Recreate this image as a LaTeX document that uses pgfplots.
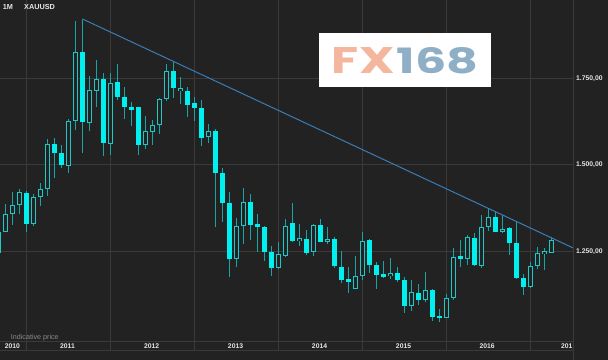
\documentclass[border=0pt]{standalone}
\usepackage{fontspec}
\setmainfont{Liberation Sans}
\newfontfamily\logofont{Poppins}
\usepackage{graphicx}
\usepackage{pgfplots}
\usepackage{pgfplotstable}
\pgfplotsset{compat=1.18}

\definecolor{bgc}{HTML}{222222}
\definecolor{gridc}{HTML}{3A3A3A}
\definecolor{upc}{HTML}{1EC8C8}
\definecolor{dnc}{HTML}{00F0F0}
\definecolor{wickc}{HTML}{17A5A5}
\definecolor{trendc}{HTML}{3A7DB5}
\definecolor{txtc}{HTML}{E6E6E6}
\definecolor{greyc}{HTML}{8A8A8A}
\definecolor{fxc}{HTML}{F4B69C}
\definecolor{onec}{HTML}{8EAFC6}

% month index m: 0 = Jan 2010
\pgfplotstableread{
m O H L C
8 1246 1310 1243 1308
9 1308 1388 1307 1359
10 1358 1423 1328 1384
11 1385 1432 1360 1421
13 1331 1416 1324 1409
14 1409 1447 1382 1431
15 1430 1575 1410 1560
18 1498 1632 1478 1626
19 1626 1915 1600 1827
21 1620 1757 1597 1716
22 1714 1803 1668 1747
24 1561 1764 1528 1736
29 1558 1641 1545 1598
30 1596 1630 1557 1615
31 1615 1692 1590 1691
32 1689 1790 1685 1772
34 1714 1755 1675 1721
38 1580 1619 1563 1598
42 1229 1348 1207 1324
43 1324 1434 1272 1394
48 1202 1277 1200 1242
49 1238 1344 1236 1324
51 1282 1330 1267 1288
53 1248 1330 1238 1327
55 1279 1322 1271 1286
59 1143 1238 1142 1181
60 1181 1308 1167 1282
64 1180 1231 1171 1188
67 1093 1168 1079 1133
69 1111 1191 1105 1141
72 1060 1127 1059 1116
73 1116 1261 1110 1236
75 1230 1298 1212 1292
77 1210 1356 1204 1320
78 1320 1373 1311 1350
80 1308 1356 1304 1316
84 1149 1221 1146 1209
85 1209 1263 1199 1247
86 1247 1260 1197 1248
87 1247 1293 1245 1284
}\upc

\pgfplotstableread{
m O H L C
12 1420 1426 1308 1331
16 1560 1577 1462 1534
17 1536 1558 1490 1500
20 1827 1921 1534 1625
23 1747 1764 1526 1564
25 1740 1790 1688 1697
26 1697 1724 1632 1668
27 1666 1683 1613 1661
28 1666 1668 1529 1558
33 1772 1796 1692 1721
35 1714 1724 1639 1673
36 1678 1697 1627 1663
37 1665 1688 1555 1578
39 1598 1605 1322 1478
40 1478 1490 1336 1390
41 1389 1423 1178 1229
44 1392 1416 1285 1327
45 1330 1360 1250 1321
46 1322 1325 1224 1250
47 1248 1267 1180 1202
50 1332 1391 1277 1281
52 1288 1312 1240 1247
54 1327 1344 1277 1279
56 1286 1292 1204 1210
57 1207 1252 1160 1168
58 1170 1205 1130 1164
61 1283 1288 1190 1211
62 1212 1221 1142 1182
63 1183 1223 1173 1178
65 1188 1205 1162 1168
66 1168 1176 1074 1093
68 1132 1156 1097 1111
70 1141 1143 1050 1062
71 1064 1086 1046 1060
74 1236 1284 1207 1230
76 1290 1305 1209 1212
79 1350 1366 1306 1308
81 1319 1320 1240 1274
82 1276 1338 1172 1173
83 1173 1187 1124 1149
}\dnc

\begin{document}
\begin{tikzpicture}
\path[use as bounding box] (0,0) rectangle (608bp,360bp);
\fill[bgc] (0,0) rectangle (608bp,360bp);
\begin{axis}[
  at={(0,9bp)}, anchor=south west,
  width=573bp, height=351bp, scale only axis,
  xmin=8.214, xmax=90.071, ymin=963.67, ymax=1975.78,
  axis line style={draw=none}, tick style={draw=none}, major tick length=0pt,
  xtick={12,24,36,48,60,72,84}, xticklabels={},
  ytick={1250,1500,1750}, yticklabels={{1.250,00},{1.500,00},{1.750,00}},
  yticklabel pos=right,
  grid=major, major grid style={draw=gridc, line width=1bp},
  extra x ticks={9.97,17.86,29.88,41.86,53.86,65.86,77.8,89.17},
  extra x tick labels={2010,2011,2012,2013,2014,2015,2016,201},
  extra x tick style={grid=none},
  extra y ticks={992.5}, extra y tick labels={},
  extra y tick style={grid=major},
  yticklabel style={anchor=west, inner sep=0pt, xshift=3bp, text=txtc,
    font=\fontsize{6.8}{7}\selectfont\bfseries},
  xticklabel style={anchor=center, inner sep=0pt, yshift=4.8bp, text=txtc,
    font=\fontsize{6.8}{7}\selectfont\bfseries},
  clip=true,
]
% wicks
\addplot[draw=none, mark=none, forget plot,
  error bars/.cd, y dir=both, y explicit, error mark=none,
  error bar style={draw=wickc, line width=1bp}]
  table[x=m, y expr={(\thisrow{H}+\thisrow{L})/2},
        y error expr={(\thisrow{H}-\thisrow{L})/2}] {\upc};
\addplot[draw=none, mark=none, forget plot,
  error bars/.cd, y dir=both, y explicit, error mark=none,
  error bar style={draw=wickc, line width=1bp}]
  table[x=m, y expr={(\thisrow{H}+\thisrow{L})/2},
        y error expr={(\thisrow{H}-\thisrow{L})/2}] {\dnc};
% down bodies (filled)
\addplot[draw=none, mark=none, forget plot,
  error bars/.cd, y dir=both, y explicit, error mark=none,
  error bar style={draw=dnc, line width=5bp}]
  table[x=m, y expr={(\thisrow{O}+\thisrow{C})/2},
        y error expr={max(abs(\thisrow{O}-\thisrow{C})/2,4)}] {\dnc};
% up bodies (hollow)
\addplot[draw=none, mark=none, forget plot,
  error bars/.cd, y dir=both, y explicit, error mark=none,
  error bar style={draw=upc, line width=5bp}]
  table[x=m, y expr={(\thisrow{O}+\thisrow{C})/2},
        y error expr={max(abs(\thisrow{O}-\thisrow{C})/2,4)}] {\upc};
\addplot[draw=none, mark=none, forget plot,
  error bars/.cd, y dir=both, y explicit, error mark=none,
  error bar style={draw=bgc, line width=3bp}]
  table[x=m, y expr={(\thisrow{O}+\thisrow{C})/2},
        y error expr={max(max(abs(\thisrow{O}-\thisrow{C})/2,4)-2.9,0)}] {\upc};
% trend line
\addplot[trendc, line width=1bp, mark=none] coordinates {(20,1921) (90.071,1261)};
\end{axis}
\draw[gridc, line width=1bp] (0,9bp) -- (573bp,9bp);
\draw[gridc, line width=1bp] (573.5bp,0) -- (573.5bp,360bp);
\node[anchor=west, inner sep=0pt, text=txtc, font=\fontsize{7.3}{8}\selectfont\bfseries] at (2.7bp,352.7bp) {1M};
\node[anchor=west, inner sep=0pt, text=txtc, font=\fontsize{7.3}{8}\selectfont\bfseries] at (24bp,352.7bp) {XAUUSD};
\node[anchor=west, inner sep=0pt, text=greyc, font=\fontsize{7.2}{8}\selectfont] at (10.7bp,22.7bp) {Indicative price};
\fill[white] (319bp,273.3bp) rectangle (491bp,327.3bp);
\node[anchor=south west, inner sep=0pt] at (331.7bp,286bp) {\resizebox{62.6bp}{26bp}{\logofont\bfseries\color{fxc}FX}};
\node[anchor=south west, inner sep=0pt] at (396.7bp,286bp) {\resizebox{81.6bp}{26bp}{\logofont\bfseries\color{onec}168}};
\end{tikzpicture}
\end{document}
